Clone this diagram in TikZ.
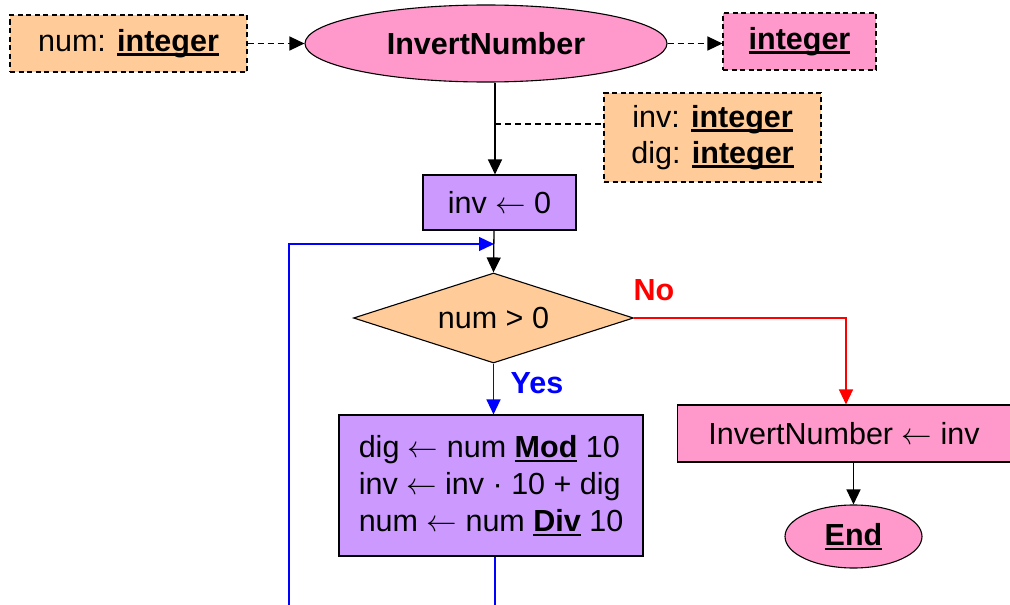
\RequirePackage{fix-cm}
\documentclass[tikz,border=0pt]{standalone}
\usepackage{fontspec}
\setmainfont{Liberation Sans}
\usetikzlibrary{shapes.geometric,arrows.meta,calc}
\definecolor{cOrange}{RGB}{255,204,153}
\definecolor{cPink}{RGB}{255,153,204}
\definecolor{cPurple}{RGB}{204,153,255}
\newcommand\ubf[1]{\setbox0\hbox{\bfseries #1}\rlap{\rule[-0.14em]{\wd0}{0.07em}}\box0\relax}
\newcommand\larr{ $\leftarrow$ }
\tikzset{
  base/.style={draw=black, line width=1.1pt, inner sep=0pt, font=\fontsize{30.5}{36}\selectfont, text=black},
  decl/.style={base, rectangle, fill=cOrange, dash pattern=on 5pt off 3.5pt},
  retbox/.style={base, rectangle, fill=cPink, dash pattern=on 5pt off 3.5pt},
  term/.style={base, ellipse, fill=cPink},
  proc/.style={base, rectangle, fill=cPurple},
  resbox/.style={base, rectangle, fill=cPink},
  cond/.style={base, diamond, fill=cOrange, aspect=3.1},
  tip/.style={-{Triangle[length=15pt,width=14pt]}},
  flow/.style={line width=1.3pt, tip},
  dflow/.style={line width=1.3pt, dash pattern=on 6pt off 4pt},
}
\begin{document}
\begin{tikzpicture}[x=1pt,y=-1pt]
\clip (0,0) rectangle (1010,605);
\fill[white] (0,0) rectangle (1010,605);
\node[decl, minimum width=237pt, minimum height=57pt] (num) at (128.5,43.5) {num: \ubf{integer}};
\node[term, minimum width=362pt, minimum height=77pt, font=\fontsize{30.5}{36}\selectfont\bfseries] (main) at (486,43.5) {InvertNumber};
\node[retbox, minimum width=153pt, minimum height=57pt] (ret) at (799.5,41.5) {\ubf{integer}};
\node[decl, minimum width=217pt, minimum height=89pt, align=center] (vars) at (712.5,137.5) {inv: \ubf{integer}\\dig: \ubf{integer}};
\node[proc, minimum width=153pt, minimum height=55pt] (init) at (499.5,202.5) {inv\larr 0};
\node[cond, minimum width=280pt, minimum height=90pt] (test) at (493.5,318) {num > 0};
\node[proc, minimum width=304pt, minimum height=141pt, align=left, font=\fontsize{30.5}{37}\selectfont] (body) at (491,485.5)
  {dig\larr num \ubf{Mod} 10\\inv\larr inv · 10 + dig\\num\larr num \ubf{Div} 10};
\node[resbox, minimum width=333pt, minimum height=57pt] (res) at (844,433.5) {InvertNumber\larr inv};
\node[term, minimum width=137pt, minimum height=63pt, font=\fontsize{30.5}{36}\selectfont\bfseries] (end) at (853.5,536.5) {\ubf{End}};
\node[font=\fontsize{30.5}{36}\selectfont\bfseries, text=red] (nolab) at (654,290) {No};
\node[font=\fontsize{30.5}{36}\selectfont\bfseries, text=blue] (yeslab) at (537,383) {Yes};

\coordinate (spine) at (495,0);
\coordinate (jn) at (495,124);
\coordinate (loopin) at (494,244);
\coordinate (bl) at (495,620);
\coordinate (lb) at (289,620);
\coordinate (lt) at (289,244);
\coordinate (redc) at (846,318);

\draw[dflow, tip] (num.east) -- (main.west);
\draw[dflow, tip] (main.east) -- (main.east -| ret.west);
\draw[flow] (main.south -| spine) -- (init.north -| spine);
\draw[dflow] (jn) -- (jn -| vars.west);
\draw[flow] (init.south -| loopin) -- (test.north);
\draw[flow, red] (test.east) -- (redc) -- (res.north -| redc);
\draw[flow, blue] (test.south) -- (body.north -| test.south);
\draw[line width=1.3pt, blue, tip] (body.south -| bl) -- (bl) -- (lb) -- (lt) -- (loopin);
\draw[flow] (res.south -| end.north) -- (end.north);
\end{tikzpicture}
\end{document}
